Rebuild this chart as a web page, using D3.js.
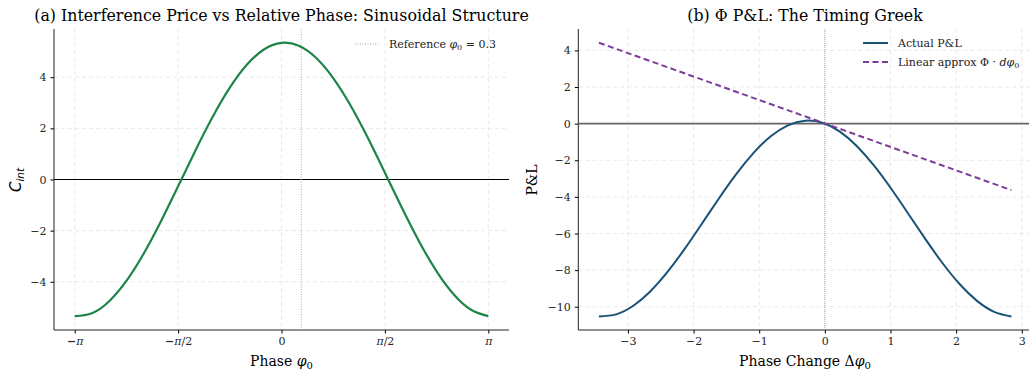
<!DOCTYPE html>
<html>
<head>
<meta charset="utf-8">
<script src="https://cdn.jsdelivr.net/npm/d3@7"></script>
<style>
  body { margin: 0; background: #fff; }
  svg { font-family: "DejaVu Serif", serif; }
  .domain { stroke: #222; }
</style>
</head>
<body>
<svg id="chart" width="1029" height="375"></svg>
<script>
// panel (a): interference price vs phase
const phase = [-3.1416, -2.8798, -2.6180, -2.3562, -2.0944, -1.8326, -1.5708, -1.3090, -1.0472, -0.7854, -0.5236, -0.2618,
  0, 0.2618, 0.5236, 0.7854, 1.0472, 1.3090, 1.5708, 1.8326, 2.0944, 2.3562, 2.6180, 2.8798, 3.1416]
const price = [-5.343, -5.231, -4.761, -3.967, -2.903, -1.641, -0.267, 1.125, 2.440, 3.589, 4.494, 5.092,
  5.343, 5.231, 4.761, 3.967, 2.903, 1.641, 0.267, -1.125, -2.440, -3.589, -4.494, -5.092, -5.343]
const refPhase = 0.3
const phaseTicks = [-Math.PI, -Math.PI / 2, 0, Math.PI / 2, Math.PI]
const phaseTickLabels = ['−π', '−π/2', '0', 'π/2', 'π']
const priceTicks = [-4, -2, 0, 2, 4]

// panel (b): P&L vs phase change
const dPhase = [-3.4416, -3.1798, -2.9180, -2.6562, -2.3944, -2.1326, -1.8708, -1.6090, -1.3472, -1.0854, -0.8236, -0.5618,
  -0.3, -0.0382, 0.2236, 0.4854, 0.7472, 1.0090, 1.2708, 1.5326, 1.7944, 2.0562, 2.3180, 2.5798, 2.8416]
const pnl = [-10.527, -10.415, -9.945, -9.151, -8.087, -6.825, -5.451, -4.059, -2.744, -1.595, -0.690, -0.092,
  0.159, 0.047, -0.423, -1.217, -2.281, -3.543, -4.917, -6.309, -7.624, -8.773, -9.678, -10.276, -10.527]
const linDPhase = [-3.4416, 2.8416]
const linPnl = [4.42, -3.63]
const dTicks = [-3, -2, -1, 0, 1, 2, 3]
const pnlTicks = [-10, -8, -6, -4, -2, 0, 2, 4]

const svg = d3.select('#chart')
const plotTop = 29, plotBottom = 330

function fmt(v) { return v < 0 ? '−' + Math.abs(v) : '' + v }

function panel(left, right, xDom, yDom, xt, yt, xtLabels) {
  const x = d3.scaleLinear().domain(xDom).range([left, right])
  const y = d3.scaleLinear().domain(yDom).range([plotBottom, plotTop])
  const g = svg.append('g')

  // grid
  g.selectAll('.gx').data(xt).join('line')
    .attr('x1', d => x(d)).attr('x2', d => x(d)).attr('y1', plotTop).attr('y2', plotBottom)
    .attr('stroke', '#e3e3e3').attr('stroke-dasharray', '4,3').attr('stroke-width', 0.8)
  g.selectAll('.gy').data(yt).join('line')
    .attr('x1', left).attr('x2', right).attr('y1', d => y(d)).attr('y2', d => y(d))
    .attr('stroke', '#e3e3e3').attr('stroke-dasharray', '4,3').attr('stroke-width', 0.8)

  const xa = d3.axisBottom(x).tickValues(xt).tickSize(3.5).tickPadding(4)
    .tickFormat((d, i) => xtLabels ? xtLabels[i] : fmt(d))
  const ya = d3.axisLeft(y).tickValues(yt).tickSize(3.5).tickPadding(4).tickFormat(fmt)
  g.append('g').attr('transform', `translate(0,${plotBottom})`).call(xa)
    .attr('font-family', 'DejaVu Serif').attr('font-size', 11)
    .call(s => s.select('.domain').attr('d', `M${left},0H${right}`))
    .call(s => s.selectAll('.tick text').attr('fill', '#262626'))
  g.append('g').attr('transform', `translate(${left},0)`).call(ya)
    .attr('font-family', 'DejaVu Serif').attr('font-size', 11)
    .call(s => s.select('.domain').attr('d', `M0,${plotTop}V${plotBottom}`))
    .call(s => s.selectAll('.tick text').attr('fill', '#262626'))
  return { x, y, g }
}

// ---- panel (a)
const a = panel(54, 509, [-3.456, 3.456], [-5.885, 5.885], phaseTicks, priceTicks, phaseTickLabels)
a.g.selectAll('.tick text').filter((d, i, n) => n[i].textContent.includes('π'))
  .html(function () {
    const t = this.textContent
    return t.replace('−', '<tspan font-weight="bold">−</tspan>').replace('π', '<tspan font-style="italic">π</tspan>')
  })
a.g.append('line').attr('x1', 54).attr('x2', 509).attr('y1', a.y(0)).attr('y2', a.y(0))
  .attr('stroke', '#000').attr('stroke-width', 1)
a.g.append('line').attr('x1', a.x(refPhase)).attr('x2', a.x(refPhase)).attr('y1', plotTop).attr('y2', plotBottom)
  .attr('stroke', '#aaa').attr('stroke-width', 1).attr('stroke-dasharray', '1,1.5')
a.g.append('path').datum(d3.zip(phase, price))
  .attr('d', d3.line().x(d => a.x(d[0])).y(d => a.y(d[1])).curve(d3.curveNatural))
  .attr('fill', 'none').attr('stroke', '#1e8449').attr('stroke-width', 2.2)

a.g.append('line').attr('x1', 355).attr('x2', 378).attr('y1', 44).attr('y2', 44)
  .attr('stroke', '#aaa').attr('stroke-width', 1).attr('stroke-dasharray', '1,1.5')
a.g.append('text').attr('x', 389).attr('y', 48).attr('font-size', 11).attr('fill', '#222')
  .html('Reference <tspan font-style="italic">φ</tspan><tspan font-size="8" dy="2">0</tspan><tspan dy="-2"> = 0.3</tspan>')

svg.append('text').attr('x', 281.5).attr('y', 21).attr('text-anchor', 'middle').attr('font-size', 15.8)
  .text('(a) Interference Price vs Relative Phase: Sinusoidal Structure')
svg.append('text').attr('x', 281.5).attr('y', 366).attr('text-anchor', 'middle').attr('font-size', 14)
  .html('Phase <tspan font-style="italic">φ</tspan><tspan font-size="10" dy="3">0</tspan>')
svg.append('text').attr('transform', 'translate(21,180) rotate(-90)').attr('text-anchor', 'middle')
  .attr('font-size', 15).attr('font-family', 'DejaVu Sans')
  .html('<tspan font-style="italic">C</tspan><tspan font-size="10.5" dy="3" font-style="italic">int</tspan>')

// ---- panel (b)
const b = panel(578.3, 1032, [-3.756, 3.156], [-11.27, 5.17], dTicks, pnlTicks)
b.g.append('line').attr('x1', 578.3).attr('x2', 1032).attr('y1', b.y(0)).attr('y2', b.y(0))
  .attr('stroke', '#666').attr('stroke-width', 1.6)
b.g.append('line').attr('x1', b.x(0)).attr('x2', b.x(0)).attr('y1', plotTop).attr('y2', plotBottom)
  .attr('stroke', '#999').attr('stroke-width', 0.8).attr('stroke-dasharray', '1,1')
b.g.append('path').datum(d3.zip(dPhase, pnl))
  .attr('d', d3.line().x(d => b.x(d[0])).y(d => b.y(d[1])).curve(d3.curveNatural))
  .attr('fill', 'none').attr('stroke', '#1a5276').attr('stroke-width', 2)
b.g.append('path').datum(d3.zip(linDPhase, linPnl))
  .attr('d', d3.line().x(d => b.x(d[0])).y(d => b.y(d[1])))
  .attr('fill', 'none').attr('stroke', '#7d3c98').attr('stroke-width', 2).attr('stroke-dasharray', '6,3.5')

b.g.append('line').attr('x1', 863).attr('x2', 888).attr('y1', 43).attr('y2', 43)
  .attr('stroke', '#1a5276').attr('stroke-width', 2)
b.g.append('line').attr('x1', 863).attr('x2', 888).attr('y1', 62).attr('y2', 62)
  .attr('stroke', '#7d3c98').attr('stroke-width', 2).attr('stroke-dasharray', '6,3.5')
b.g.append('text').attr('x', 898).attr('y', 47).attr('font-size', 11).attr('fill', '#222').text('Actual P&L')
b.g.append('text').attr('x', 898).attr('y', 66).attr('font-size', 11).attr('fill', '#222')
  .html('Linear approx Φ · <tspan font-style="italic">dφ</tspan><tspan font-size="8" dy="2">0</tspan>')

svg.append('text').attr('x', 805).attr('y', 21).attr('text-anchor', 'middle').attr('font-size', 15.8)
  .text('(b) Φ P&L: The Timing Greek')
svg.append('text').attr('x', 805).attr('y', 366).attr('text-anchor', 'middle').attr('font-size', 14)
  .html('Phase Change Δ<tspan font-style="italic">φ</tspan><tspan font-size="10" dy="3">0</tspan>')
svg.append('text').attr('transform', 'translate(537,180) rotate(-90)').attr('text-anchor', 'middle')
  .attr('font-size', 14).text('P&L')
</script>
</body>
</html>
